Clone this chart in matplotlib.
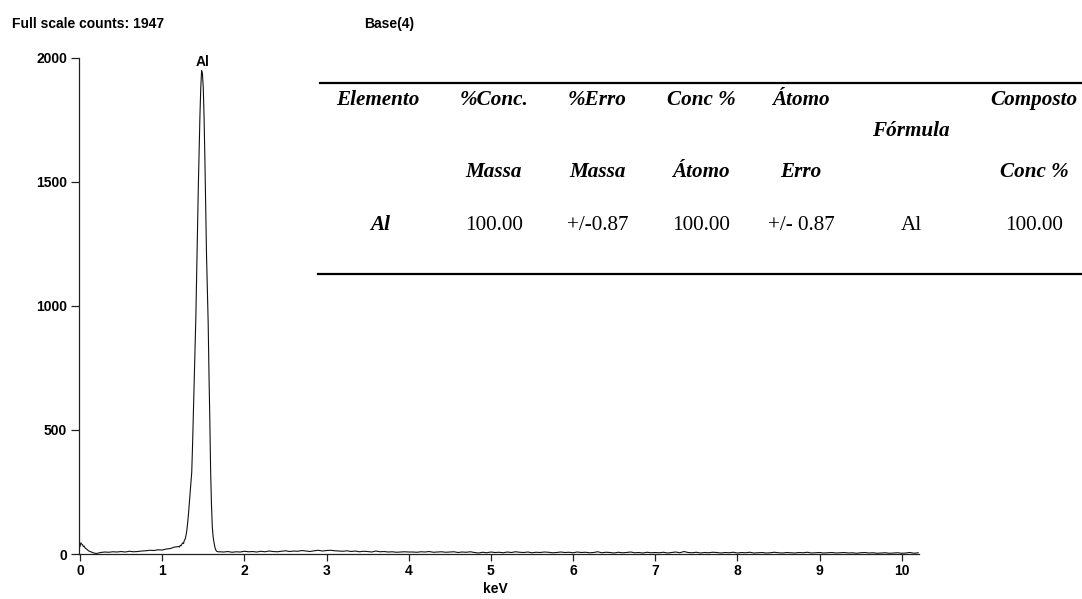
import numpy as np
import matplotlib
matplotlib.use("Agg")
import matplotlib.pyplot as plt

# ---------------- data ----------------
# low-energy region (keV, counts)
low_keV = [0.00, 0.01, 0.02, 0.03, 0.04, 0.05, 0.06, 0.08, 0.10, 0.12, 0.14, 0.16,
           0.18, 0.20, 0.25, 0.30, 0.35, 0.40, 0.45, 0.50, 0.55, 0.60, 0.65, 0.70,
           0.75, 0.80, 0.85, 0.90, 0.95, 1.00, 1.05, 1.10, 1.15]
low_counts = [30, 45, 40, 38, 30, 32, 25, 20, 14, 10, 8, 5,
              3, 2, 6, 8, 7, 9, 8, 10, 8, 11, 9, 10,
              12, 13, 15, 14, 17, 16, 20, 22, 28]

# Al K-alpha peak region, 0.01 keV channels from 1.20 keV
peak_start, peak_step = 1.20, 0.01
peak_counts = [30, 28, 35, 33, 40, 45, 42, 55, 60, 75,
               95, 125, 160, 200, 245, 290, 330, 440, 570, 690,
               820, 955, 1130, 1310, 1480, 1630, 1770, 1880, 1947, 1935,
               1880, 1760, 1590, 1390, 1200, 1060, 930, 720, 540, 330,
               200, 110, 70, 48, 30, 18, 12, 10, 9]

# high-energy background, 0.05 keV channels from 1.70 keV
bg_start, bg_step = 1.70, 0.05
bg_counts = [9, 8, 10, 7, 9, 8, 11,
             9, 10, 8, 11, 9, 12, 10, 9, 11, 13, 10, 12, 11, 14, 12, 10, 13, 15, 12, 14,
             15, 13, 12, 11, 13, 10, 12, 9, 11, 10, 8, 12, 9, 10, 8, 9, 7, 8, 9, 8,
             8, 7, 9, 8, 10, 7, 8, 9, 7, 8, 9, 6, 8, 7, 9, 6, 4, 7, 5, 8,
             6, 7, 5, 8, 6, 9, 7, 6, 8, 5, 7, 6, 8, 7, 5, 6, 8, 6, 7, 5,
             8, 6, 7, 5, 6, 9, 5, 7, 6, 4, 7, 5, 6, 8, 5, 6, 4, 7, 5, 6,
             5, 7, 4, 6, 8, 5, 10, 6, 5, 7, 4, 6, 5, 7, 6, 4, 6, 5, 7, 4,
             6, 5, 7, 4, 5, 6, 4, 5, 7, 5, 4, 6, 5, 4, 6, 5, 7, 4, 5, 6,
             4, 5, 6, 4, 5, 6, 4, 5, 3, 5, 6, 4, 5, 3, 4, 5, 3, 4, 5, 3,
             4, 6, 3, 5]

peak_keV = list(np.round(peak_start + peak_step * np.arange(len(peak_counts)), 3))
bg_keV = list(np.round(bg_start + bg_step * np.arange(len(bg_counts)), 3))

energy = np.array(low_keV + peak_keV + bg_keV)
counts = np.array(low_counts + peak_counts + bg_counts)

x_ticks = list(range(0, 11))
y_ticks = [0, 500, 1000, 1500, 2000]

full_scale = 1947
title_left = f"Full scale counts: {full_scale}"
title_mid = "Base(4)"
peak_label = "Al"
peak_label_keV = 1.487

# table
header1 = ["Elemento", "%Conc.", "%Erro", "Conc %", "Átomo", "", "Composto"]
header_mid = ["", "", "", "", "", "Fórmula", ""]
header2 = ["", "Massa", "Massa", "Átomo", "Erro", "", "Conc %"]
row_vals = ["Al", "100.00", "+/-0.87", "100.00", "+/- 0.87", "Al", "100.00"]

# ---------------- figure ----------------
W, H = 1082, 599
fig = plt.figure(figsize=(W / 100, H / 100), dpi=100)
fig.patch.set_facecolor("white")

def fx(px):
    return px / W

def fy(py):
    return 1 - py / H

ax_left, ax_right = 79, 919
ax_top, ax_bottom = 57.5, 554
ax = fig.add_axes([fx(ax_left), fy(ax_bottom), (ax_right - ax_left) / W, (ax_bottom - ax_top) / H])

ax.plot(energy, counts, color="#111111", lw=0.8)
ax.set_xlim(-0.012, 10.21)
ax.set_ylim(0, 2000)

for s in ["top", "right"]:
    ax.spines[s].set_visible(False)
for s in ["left", "bottom"]:
    ax.spines[s].set_linewidth(0.9)
    ax.spines[s].set_color("#222222")

ax.set_xticks(x_ticks)
ax.set_yticks(y_ticks)
tick_font = dict(family="Liberation Sans", weight="bold", size=10)
ax.set_xticklabels([str(t) for t in x_ticks], **tick_font)
ax.set_yticklabels([str(t) for t in y_ticks], **tick_font)
ax.tick_params(axis="x", direction="out", length=5, width=0.9, pad=2, color="#222222")
ax.tick_params(axis="y", direction="out", length=5.5, width=0.9, pad=3, color="#222222")

ax.text(5.05, -0.07, "keV", transform=ax.get_xaxis_transform(), ha="center", va="center",
        **tick_font)
ax.text(peak_label_keV, 1952, peak_label, ha="center", va="bottom", **tick_font)

fig.text(fx(12), fy(24), title_left, ha="left", va="center", **tick_font)
fig.text(fx(389), fy(24), title_mid, ha="center", va="center", **tick_font)

# table lines
for yl, x0 in [(83, 320), (274, 318)]:
    fig.add_artist(plt.Line2D([fx(x0), 1.0], [fy(yl), fy(yl)], transform=fig.transFigure,
                              color="black", lw=1.6))

col_x = [377.5, 494, 597.5, 701, 801, 911, 1034]
serif = "Liberation Serif"
fs = 15.2
for i, cx in enumerate(col_x):
    if header1[i]:
        fig.text(fx(cx), fy(105), header1[i], ha="center", va="baseline",
                 family=serif, weight="bold", style="italic", size=fs)
    if header_mid[i]:
        fig.text(fx(cx), fy(135.5), header_mid[i], ha="center", va="baseline",
                 family=serif, weight="bold", style="italic", size=fs)
    if header2[i]:
        fig.text(fx(cx), fy(177.5), header2[i], ha="center", va="baseline",
                 family=serif, weight="bold", style="italic", size=fs)
    if i == 0:
        fig.text(fx(380), fy(229.5), row_vals[i], ha="center", va="baseline",
                 family=serif, weight="bold", style="italic", size=fs)
    else:
        fig.text(fx(cx), fy(229.5), row_vals[i], ha="center", va="baseline",
                 family=serif, size=fs)

fig.savefig("out.png", dpi=100, facecolor="white")
